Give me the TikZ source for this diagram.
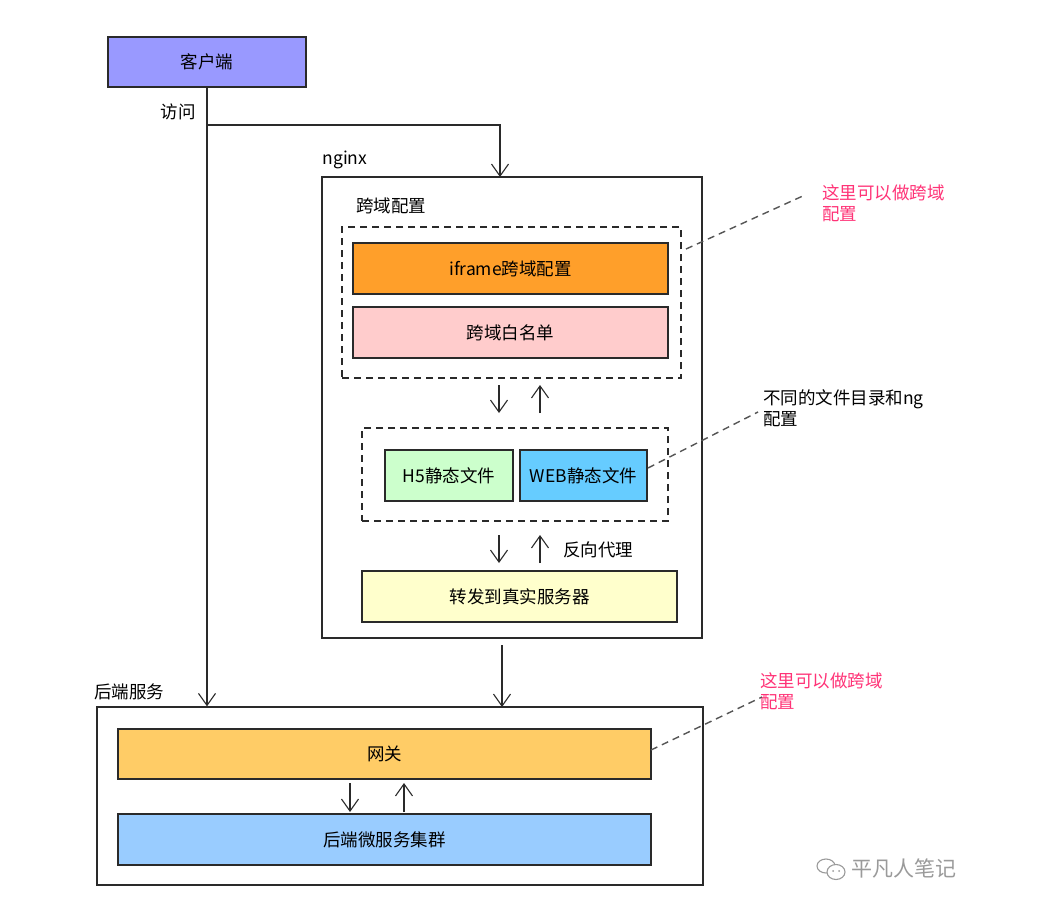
\documentclass[tikz,border=0pt]{standalone}
\usepackage{fontspec}
\setmainfont{Noto Sans CJK SC}
\usetikzlibrary{arrows.meta,calc}
\definecolor{cClient}{HTML}{9999FF}
\definecolor{cIframe}{HTML}{FF9F2A}
\definecolor{cWhite}{HTML}{FFCCCC}
\definecolor{cHfive}{HTML}{CCFFCC}
\definecolor{cWeb}{HTML}{66CCFF}
\definecolor{cFwd}{HTML}{FFFFCC}
\definecolor{cGate}{HTML}{FFCC66}
\definecolor{cClus}{HTML}{99CCFF}
\definecolor{cPink}{HTML}{FF3377}
\definecolor{cLine}{HTML}{2A2A2A}
\definecolor{cWm}{HTML}{9A9A9A}
\tikzset{
  x=1pt,y=-1pt,
  box/.style={draw=cLine,line width=1.3pt,inner sep=0pt,font=\fontsize{17.5}{20}\selectfont},
  frame/.style={draw=cLine,line width=1.3pt,inner sep=0pt},
  dbox/.style={draw=cLine,line width=1.3pt,dash pattern=on 7pt off 5pt,inner sep=0pt},
  lbl/.style={inner sep=0pt,font=\fontsize{17.5}{20}\selectfont},
  ann/.style={inner sep=0pt,align=left,anchor=north west,font=\fontsize{17.5}{21}\selectfont},
  arr/.style={draw=cLine,line width=1.1pt,-{Straight Barb[length=12pt,width=17pt,line width=1.1pt]}},
  leader/.style={draw=cLine!80,line width=1.4pt,dash pattern=on 7pt off 5pt},
}
\begin{document}
\begin{tikzpicture}
\useasboundingbox[fill=white] (0,0) rectangle (1056,904);
% client
\node[box,fill=cClient,minimum width=198pt,minimum height=50pt] (client) at (207,62) {客户端};
\node[lbl] (visit) at (178,112) {访问};
% nginx
\node[frame,minimum width=380pt,minimum height=461pt] (nginx) at (512,407.5) {};
\node[lbl] (nginxlbl) at (345,160) {nginx};
\node[lbl] (corslbl) at (391,206) {跨域配置};
\node[dbox,minimum width=339pt,minimum height=151pt] (dbox1) at (511.5,302.5) {};
\node[box,fill=cIframe,minimum width=315pt,minimum height=51pt] (iframe) at (510.5,268.5) {iframe跨域配置};
\node[box,fill=cWhite,minimum width=315pt,minimum height=51pt] (white) at (510.5,332.5) {跨域白名单};
\coordinate (a1s) at (499,385); \coordinate (a1e) at (499,413);
\coordinate (a2s) at (540,413); \coordinate (a2e) at (540,385);
\draw[arr] (a1s) -- (a1e);
\draw[arr] (a2s) -- (a2e);
\node[dbox,minimum width=306pt,minimum height=93pt] (dbox2) at (515,474.5) {};
\node[box,fill=cHfive,minimum width=128pt,minimum height=51pt] (hfive) at (449,475.5) {H5静态文件};
\node[box,fill=cWeb,minimum width=127pt,minimum height=51pt] (web) at (583.5,475.5) {WEB静态文件};
\coordinate (b1s) at (499,535); \coordinate (b1e) at (499,563);
\coordinate (b2s) at (540,563); \coordinate (b2e) at (540,535);
\draw[arr] (b1s) -- (b1e);
\draw[arr] (b2s) -- (b2e);
\node[lbl] (proxy) at (598,550) {反向代理};
\node[box,fill=cFwd,minimum width=315pt,minimum height=51pt] (fwd) at (519.5,596.5) {转发到真实服务器};
% backend
\node[frame,minimum width=606pt,minimum height=178pt] (back) at (400,796) {};
\node[lbl] (backlbl) at (129,692) {后端服务};
\node[box,fill=cGate,minimum width=533pt,minimum height=50pt] (gate) at (384.5,754) {网关};
\node[box,fill=cClus,minimum width=533pt,minimum height=51pt] (clus) at (384.5,839.5) {后端微服务集群};
\coordinate (c1s) at (350,783); \coordinate (c1e) at (350,812);
\coordinate (c2s) at (404,812); \coordinate (c2e) at (404,783);
\draw[arr] (c1s) -- (c1e);
\draw[arr] (c2s) -- (c2e);
% main connectors
\coordinate (br) at (207,125);
\coordinate (nginxin) at (500,177);
\draw[arr] (client.south) -- (client.south |- back.north);
\draw[draw=cLine,line width=1.1pt] (br) -| ($(nginxin)+(0,-10)$);
\draw[arr] ($(nginxin)+(0,-10)$) -- (nginxin);
\coordinate (nout) at (502,645);
\coordinate (bin) at (502,707);
\draw[arr] (nout) -- (bin);
% annotations
\node[ann,text=cPink] (ann1) at (822,184) {这里可以做跨域\\配置};
\node[ann] (ann2) at (763,389) {不同的文件目录和ng\\配置};
\node[ann,text=cPink] (ann3) at (760,672) {这里可以做跨域\\配置};
\coordinate (l1s) at (686,249); \coordinate (l1e) at (805,195);
\coordinate (l2s) at (648,468); \coordinate (l2e) at (758,412);
\coordinate (l3s) at (651,750); \coordinate (l3e) at (762,697);
\draw[leader] (l1s) -- (l1e);
\draw[leader] (l2s) -- (l2e);
\draw[leader] (l3s) -- (l3e);
% watermark
\draw[cWm,line width=1.1pt] (826,866) ellipse (9pt and 7pt);
\draw[cWm,line width=1.1pt,fill=white] (836,872) ellipse (9pt and 7.5pt);
\fill[cWm] (833,871) circle (1pt) (839,871) circle (1pt);
\node[inner sep=0pt,text=cWm,font=\fontsize{21}{23}\selectfont] (wm) at (904,868) {平凡人笔记};
\end{tikzpicture}
\end{document}
